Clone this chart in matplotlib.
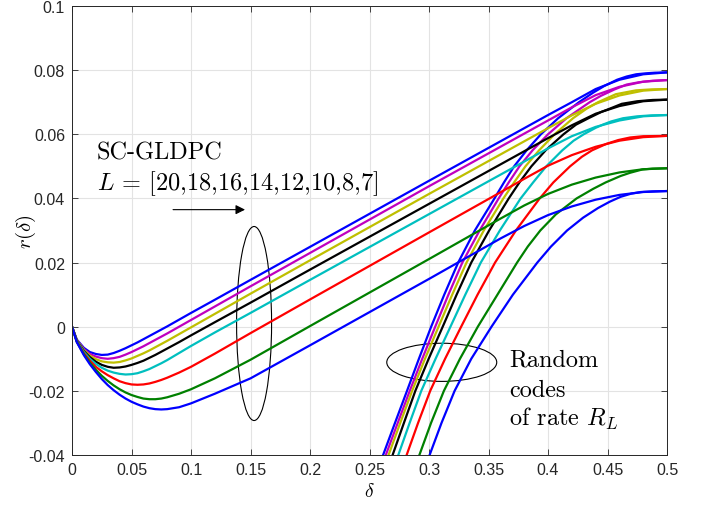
import matplotlib.pyplot as plt
from matplotlib.patches import Ellipse

plt.rcParams['mathtext.fontset'] = 'cm'
plt.rcParams['axes.unicode_minus'] = False

# L values and colours of the curves
L_values = [20, 18, 16, 14, 12, 10, 8, 7]
colors = ['b', 'm', 'y', 'k', 'c', 'r', 'g', 'b']

# SC-GLDPC growth rate
delta_sc = [0, .004, .01, .015, .02, .025, .03, .035, .04, .045, .05, .055, .06,
            .065, .07, .075, .08, .09, .1, .12, .15, .2, .3, .36, .38, .4, .42,
            .44, .46, .48, .5]
sc_L20 = [0, -.0040, -.0066, -.0079, -.0085, -.0088, -.0087, -.0082, -.0075, -.0067,
          -.0058, -.0049, -.0039, -.0029, -.0019, -.0009, .0001, .0022, .0043, .0084,
          .0146, .0249, .0455, .0578, .0619, .0660, .0700, .0741, .0770, .0787, .0793]
sc_L18 = [0, -.0041, -.0070, -.0085, -.0093, -.0098, -.0100, -.0098, -.0094, -.0087,
          -.0079, -.0070, -.0061, -.0051, -.0041, -.0031, -.0021, .0000, .0021, .0063,
          .0126, .0230, .0438, .0561, .0602, .0643, .0684, .0722, .0748, .0764, .0769]
sc_L16 = [0, -.0042, -.0073, -.0090, -.0101, -.0108, -.0111, -.0112, -.0110, -.0105,
          -.0099, -.0091, -.0083, -.0074, -.0064, -.0054, -.0044, -.0023, -.0002, .0040,
          .0103, .0207, .0414, .0537, .0578, .0619, .0659, .0695, .0721, .0736, .0741]
sc_L14 = [0, -.0043, -.0076, -.0095, -.0109, -.0119, -.0125, -.0128, -.0127, -.0124,
          -.0119, -.0113, -.0106, -.0097, -.0088, -.0078, -.0068, -.0048, -.0027, .0014,
          .0075, .0178, .0383, .0506, .0547, .0588, .0628, .0664, .0688, .0703, .0708]
sc_L12 = [0, -.0044, -.0079, -.0100, -.0116, -.0128, -.0137, -.0143, -.0147, -.0149,
          -.0148, -.0145, -.0139, -.0132, -.0123, -.0114, -.0104, -.0082, -.0060, -.0018,
          .0043, .0146, .0351, .0474, .0515, .0556, .0594, .0623, .0643, .0656, .0660]
sc_L10 = [0, -.0046, -.0083, -.0106, -.0125, -.0139, -.0151, -.0161, -.0170, -.0176,
          -.0180, -.0181, -.0180, -.0177, -.0172, -.0166, -.0159, -.0143, -.0125, -.0084,
          -.0020, .0085, .0294, .0419, .0461, .0502, .0535, .0561, .0580, .0591, .0595]
sc_L8 = [0, -.0047, -.0086, -.0112, -.0134, -.0153, -.0169, -.0183, -.0195, -.0205,
         -.0213, -.0219, -.0224, -.0226, -.0226, -.0224, -.0220, -.0209, -.0195, -.0161,
         -.0103, .0002, .0211, .0337, .0378, .0414, .0443, .0465, .0481, .0491, .0494]
sc_L7 = [0, -.0048, -.0089, -.0117, -.0141, -.0163, -.0182, -.0198, -.0212, -.0224,
         -.0234, -.0242, -.0249, -.0254, -.0257, -.0258, -.0257, -.0251, -.0239, -.0209,
         -.0161, -.0058, .0149, .0275, .0314, .0348, .0375, .0396, .0411, .0420, .0423]

# random codes of rate R_L, (delta, r) pairs
rnd_L20_d = [.2515, .2614, .2714, .2815, .2915, .3018, .3128, .3245, .3385, .355, .363,
             .3715, .382, .394, .4085, .426, .438, .447, .458, .466, .474, .482, .49, .5]
rnd_L20_r = [-.05, -.04, -.03, -.02, -.01, 0, .01, .02, .03, .04, .045,
             .05, .055, .06, .065, .07, .073, .075, .077, .078, .0787, .079, .0792, .0793]
rnd_L18_d = [.2537, .2637, .2737, .2838, .2943, .3052, .3163, .328, .3425, .3585, .367,
             .376, .387, .4, .4155, .435, .4445, .456, .466, .476, .488, .5]
rnd_L18_r = [-.05, -.04, -.03, -.02, -.01, 0, .01, .02, .03, .04, .045,
             .05, .055, .06, .065, .07, .072, .074, .0755, .0762, .0767, .0769]
rnd_L16_d = [.256, .266, .2758, .2858, .2966, .308, .3195, .3315, .346, .3625, .3715,
             .381, .3925, .4055, .421, .4325, .442, .457, .474, .487, .5]
rnd_L16_r = [-.05, -.04, -.03, -.02, -.01, 0, .01, .02, .03, .04, .045,
             .05, .055, .06, .065, .068, .07, .0725, .0737, .074, .0741]
rnd_L14_d = [.2594, .2694, .2789, .2885, .2997, .3115, .3232, .3355, .3505, .367, .376,
             .386, .398, .413, .4235, .434, .445, .452, .462, .475, .488, .5]
rnd_L14_r = [-.05, -.04, -.03, -.02, -.01, 0, .01, .02, .03, .04, .045,
             .05, .055, .06, .063, .065, .067, .068, .0695, .0703, .0707, .0708]
rnd_L12_d = [.2642, .2742, .2837, .2935, .3055, .318, .3305, .3435, .3595, .377, .3875,
             .3985, .412, .4215, .43, .44, .446, .453, .463, .475, .487, .5]
rnd_L12_r = [-.05, -.04, -.03, -.02, -.01, 0, .01, .02, .03, .04, .045,
             .05, .055, .058, .06, .062, .063, .064, .065, .0656, .0659, .066]
rnd_L10_d = [.2712, .2812, .2908, .301, .3135, .327, .3408, .3555, .373, .393, .4045,
             .4185, .4285, .437, .449, .459, .469, .48, .5]
rnd_L10_r = [-.05, -.04, -.03, -.02, -.01, 0, .01, .02, .03, .04, .045,
             .05, .053, .055, .057, .0582, .059, .0594, .0595]
rnd_L8_d = [.2819, .2919, .3017, .3125, .326, .341, .3575, .374, .383, .3935, .4065,
            .424, .438, .4485, .461, .469, .479, .488, .5]
rnd_L8_r = [-.05, -.04, -.03, -.02, -.01, 0, .01, .02, .025, .03, .035,
            .04, .043, .045, .047, .048, .049, .0493, .0494]
rnd_L7_d = [.2905, .3005, .3105, .3215, .3355, .3525, .3705, .391, .4025, .416, .4295,
            .442, .452, .461, .47, .478, .488, .5]
rnd_L7_r = [-.05, -.04, -.03, -.02, -.01, 0, .01, .02, .025, .03, .034,
            .037, .039, .0405, .0415, .042, .0422, .0423]

sc_curves = [sc_L20, sc_L18, sc_L16, sc_L14, sc_L12, sc_L10, sc_L8, sc_L7]
rnd_curves = [(rnd_L20_d, rnd_L20_r), (rnd_L18_d, rnd_L18_r), (rnd_L16_d, rnd_L16_r),
              (rnd_L14_d, rnd_L14_r), (rnd_L12_d, rnd_L12_r), (rnd_L10_d, rnd_L10_r),
              (rnd_L8_d, rnd_L8_r), (rnd_L7_d, rnd_L7_r)]

xticks = [0, 0.05, 0.1, 0.15, 0.2, 0.25, 0.3, 0.35, 0.4, 0.45, 0.5]
xticklabels = ['0', '0.05', '0.1', '0.15', '0.2', '0.25', '0.3', '0.35', '0.4', '0.45', '0.5']
yticks = [-0.04, -0.02, 0, 0.02, 0.04, 0.06, 0.08, 0.1]
yticklabels = ['-0.04', '-0.02', '0', '0.02', '0.04', '0.06', '0.08', '0.1']

fig = plt.figure(figsize=(7.06, 5.06), dpi=100)
ax = fig.add_axes([0.102, 0.0988, 0.8428, 0.8874])

for sc, (rd, rr), c in zip(sc_curves, rnd_curves, colors):
    ax.plot(delta_sc, sc, color=c, lw=1.6)
    ax.plot(rd, rr, color=c, lw=1.6)

ax.set_xlim(0, 0.5)
ax.set_ylim(-0.04, 0.1)
ax.set_xticks(xticks)
ax.set_xticklabels(xticklabels)
ax.set_yticks(yticks)
ax.set_yticklabels(yticklabels)
ax.grid(True, color='#e3e3e3', lw=0.8)
ax.set_axisbelow(True)
ax.tick_params(direction='in', top=True, right=True, length=4, width=0.6,
               color='#262626', labelsize=11.5, labelcolor='#262626', pad=5)
for lab in ax.get_xticklabels() + ax.get_yticklabels():
    lab.set_fontfamily('Liberation Sans')
for sp in ax.spines.values():
    sp.set_color('#262626')
    sp.set_linewidth(0.7)

ax.set_xlabel(r'$\delta$', fontsize=14, labelpad=3)
ax.set_ylabel(r'$r(\delta)$', fontsize=15)
ax.yaxis.set_label_coords(-0.058, 0.5)

# annotations
ax.text(0.021, 0.0523, 'SC-GLDPC', family='cmr10', fontsize=17.5)
ax.text(0.021, 0.0429, r'$L$ = [20,18,16,14,12,10,8,7]', family='cmr10', fontsize=17.5)
ax.annotate('', xy=(0.1454, 0.0365), xytext=(0.0849, 0.0365),
            arrowprops=dict(arrowstyle='-|>', color='k', lw=0.8,
                            mutation_scale=14, shrinkA=0, shrinkB=0))
ax.add_patch(Ellipse((0.153, 0.001), 0.0294, 0.0605, fill=False, ec='k', lw=0.8))
ax.add_patch(Ellipse((0.3107, -0.0111), 0.0924, 0.0119, fill=False, ec='k', lw=0.8))
ax.text(0.3672, -0.0122, 'Random', family='cmr10', fontsize=17.5)
ax.text(0.3672, -0.0215, 'codes', family='cmr10', fontsize=17.5)
ax.text(0.3672, -0.0307, r'of rate $R_L$', family='cmr10', fontsize=17.5)

fig.savefig('out.png', dpi=100)
